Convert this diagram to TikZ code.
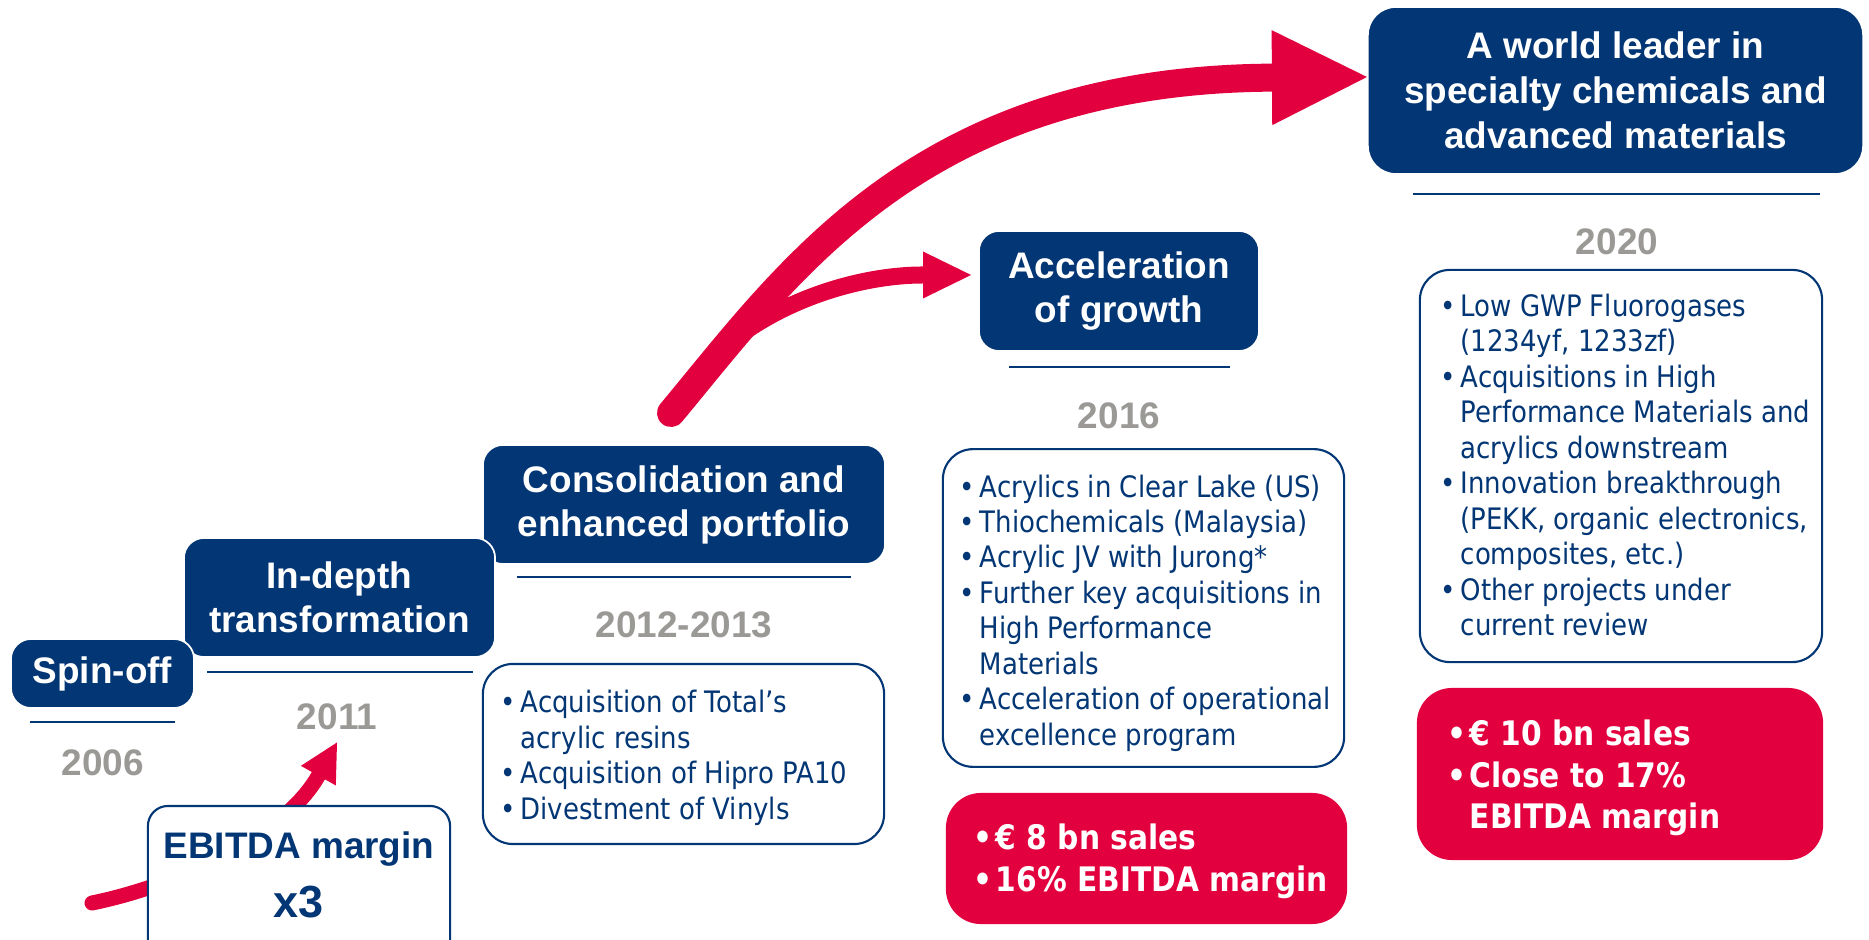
\documentclass[tikz,border=0pt]{standalone}
\usepackage{fontspec}
\setmainfont{Liberation Sans}
\newfontfamily\tahoma[FakeStretch=0.88]{DejaVu Sans}
\usetikzlibrary{arrows.meta}
\definecolor{ablue}{RGB}{3,54,116}
\definecolor{ared}{RGB}{226,0,62}
\definecolor{agray}{RGB}{155,153,150}
\newcommand{\bul}{\makebox[0.152cm][c]{\textbullet}\hspace{0.054cm}}
\newcommand{\bulind}{\hspace*{0.206cm}}
\newcommand{\rbul}{\makebox[0.175cm][c]{\textbullet}\hspace{0.035cm}}
\newcommand{\rbulind}{\hspace*{0.21cm}}

\begin{document}
\begin{tikzpicture}[x=0.01cm, y=-0.01cm,
    stagebox/.style={fill=ablue, draw=white, line width=0.5pt, rounded corners=0.2cm, text=white, align=center, inner sep=0pt, font=\bfseries\fontsize{10.5}{12.5}\selectfont},
    rule/.style={draw=ablue, line width=0.6pt},
    year/.style={text=agray, font=\bfseries\fontsize{10.5}{12.5}\selectfont},
    listbox/.style={draw=ablue, fill=white, line width=0.6pt, rounded corners=0.3cm},
    listtext/.style={anchor=west, inner sep=0pt, align=left, text=ablue, font=\tahoma\fontsize{8.4}{10.08}\selectfont},
    redbox/.style={fill=ared, rounded corners=0.35cm},
    redtext/.style={anchor=west, inner sep=0pt, align=left, text=white, font=\tahoma\bfseries\fontsize{9.6}{11.86}\selectfont},
    flow/.style={ared, line cap=round}]
      \useasboundingbox (0,0) rectangle (1869,940);

      \node[stagebox, minimum width=4.02cm, minimum height=1.19cm] (cons) at (684,504.5) {Consolidation and\\enhanced portfolio};
      \node[stagebox, minimum width=3.11cm, minimum height=1.19cm] (trans) at (339.5,597.5) {In-depth\\transformation};
      \node[stagebox, minimum width=1.83cm, minimum height=0.69cm] (spin) at (102.5,673.5) {Spin-off};
      \node[stagebox, minimum width=2.80cm, minimum height=1.20cm] (accel) at (1119,291) {Acceleration\\of growth};
      \node[stagebox, minimum width=4.95cm, minimum height=1.67cm, rounded corners=0.28cm, font=\bfseries\fontsize{10.5}{12.8}\selectfont] (leader) at (1615.5,90.5) {A world leader in\\specialty chemicals and\\advanced materials};

      \draw[rule] (30,722) -- (175,722);
      \draw[rule] (207,672) -- (473,672);
      \draw[rule] (517,577) -- (851,577);
      \draw[rule] (1009,367) -- (1230,367);
      \draw[rule] (1413,194) -- (1820,194);

      \node[year] (y06) at (103,763) {2006};
      \node[year] (y11) at (337,717) {2011};
      \node[year] (y12) at (684,625) {2012-2013};
      \node[year] (y16) at (1119,416) {2016};
      \node[year] (y20) at (1617,242) {2020};

      \node[listbox, minimum width=4.01cm, minimum height=1.80cm] (box12) at (683.5,754) {};
      \node[listtext] (txt12) at (499.4,758) {\bul Acquisition of Total’s\\\bulind acrylic resins\\\bul Acquisition of Hipro PA10\\\bul Divestment of Vinyls};
      \node[listbox, minimum width=4.01cm, minimum height=3.175cm] (box16) at (1143.5,608) {};
      \node[listtext] (txt16) at (958.4,613) {\bul Acrylics in Clear Lake (US)\\\bul Thiochemicals (Malaysia)\\\bul Acrylic JV with Jurong*\\\bul Further key acquisitions in\\\bulind High Performance\\\bulind Materials\\\bul Acceleration of operational\\\bulind excellence program};
      \node[listbox, minimum width=4.02cm, minimum height=3.92cm] (box20) at (1621,466) {};
      \node[listtext] (txt20) at (1439.4,465) {\bul Low GWP Fluorogases\\\bulind (1234yf, 1233zf)\\\bul Acquisitions in High\\\bulind Performance Materials and\\\bulind acrylics downstream\\\bul Innovation breakthrough\\\bulind (PEKK, organic electronics,\\\bulind composites, etc.)\\\bul Other projects under\\\bulind current review};

      \node[redbox, minimum width=4.01cm, minimum height=1.31cm] (kpi16) at (1146.5,858.5) {};
      \node[redtext] (ktxt16) at (974,861) {\rbul € 8 bn sales\\\rbul 16\% EBITDA margin};
      \node[redbox, minimum width=4.06cm, minimum height=1.72cm] (kpi20) at (1620,774) {};
      \node[redtext] (ktxt20) at (1448,778) {\rbul € 10 bn sales\\\rbul Close to 17\%\\\rbulind EBITDA margin};

      % growth arrows
      \coordinate (bigstart) at (671,413);
      \coordinate (fork) at (726,346);
      \coordinate (ebstart) at (92,903);
      \draw[flow, line width=0.17cm, -{Triangle[length=0.48cm, width=0.47cm, line width=0pt]}] (fork) .. controls (780,300) and (860,275) .. ([shift={(-0.07cm,0.16cm)}]accel.west);
      \draw[flow, line width=0.28cm, -{Triangle[length=0.95cm, width=0.95cm, line width=0pt]}] (bigstart) .. controls (790,270) and (920,80) .. ([yshift=0.135cm]leader.west);
      \draw[flow, line width=0.15cm, -{Triangle[length=0.38cm, width=0.40cm, line width=0pt]}] (ebstart) .. controls (180,885) and (285,835) .. (y11.south);

      \node[draw=ablue, fill=white, line width=0.6pt, rounded corners=0.2cm, minimum width=3.02cm, minimum height=1.64cm] (ebbox) at (299,888) {};
      \node[text=ablue, font=\bfseries\fontsize{10.5}{12.5}\selectfont] (ebtxt) at (299,849) {EBITDA margin};
      \node[text=ablue, font=\bfseries\fontsize{12.8}{15}\selectfont] (ebx) at (299,902) {x3};

    \end{tikzpicture}
\end{document}
